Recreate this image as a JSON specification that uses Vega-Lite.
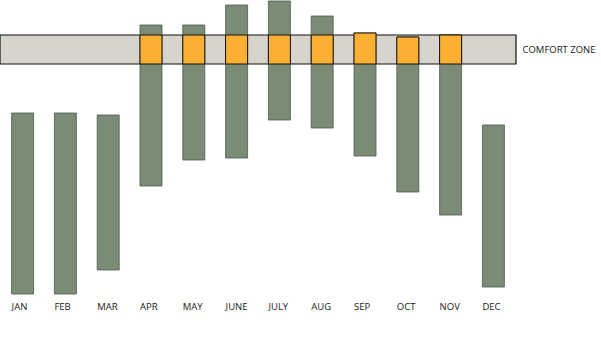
{
  "$schema": "https://vega.github.io/schema/vega-lite/v6.json",
  "width": 516,
  "height": 300,
  "autosize": {"type": "none"},
  "padding": {"left": 0, "top": 0, "right": 85, "bottom": 52},
  "background": "white",
  "config": {"view": {"stroke": null}, "axis": {"grid": false}},
  "encoding": {
    "y": {
      "field": "hi", "type": "quantitative",
      "scale": {"domain": [0, 300], "nice": false, "zero": false},
      "axis": {
        "orient": "right", "values": [250.5], "labelExpr": "'COMFORT ZONE'",
        "ticks": false, "domain": false, "grid": false, "title": null,
        "labelPadding": 6, "labelFontSize": 9.5, "labelFont": "Open Sans",
        "labelColor": "#1a1a1a", "labelAlign": "left", "labelBaseline": "middle"
      }
    },
    "y2": {"field": "lo"}
  },
  "layer": [
    {
      "data": {"values": [{"lo": 236, "hi": 265}]},
      "mark": {"type": "rect", "fill": "#d6d4cc", "stroke": "#111111", "strokeWidth": 1.2}
    },
    {
      "data": {"values": [
        {"month": "JAN", "lo": 6, "hi": 187},
        {"month": "FEB", "lo": 6, "hi": 187},
        {"month": "MAR", "lo": 30, "hi": 185},
        {"month": "APR", "lo": 114, "hi": 275},
        {"month": "MAY", "lo": 140, "hi": 275},
        {"month": "JUNE", "lo": 142, "hi": 295},
        {"month": "JULY", "lo": 180, "hi": 299},
        {"month": "AUG", "lo": 172, "hi": 284},
        {"month": "SEP", "lo": 144, "hi": 267},
        {"month": "OCT", "lo": 108, "hi": 263},
        {"month": "NOV", "lo": 85, "hi": 265},
        {"month": "DEC", "lo": 13, "hi": 175}
      ]},
      "mark": {"type": "bar", "fill": "#7a8b76", "stroke": "#4d5a4a", "strokeWidth": 0.8, "cornerRadius": 0},
      "encoding": {
        "x": {
          "field": "month", "type": "ordinal", "sort": null,
          "scale": {"paddingInner": 0.486, "paddingOuter": 0.271},
          "axis": {
            "orient": "bottom", "title": null, "domain": false, "ticks": false,
            "labelOffset": -11, "labelAlign": "left", "labelBaseline": "top",
            "labelPadding": 1, "labelAngle": 0, "labelFontSize": 9.5,
            "labelFont": "Open Sans", "labelColor": "#1a1a1a"
          }
        }
      }
    },
    {
      "data": {"values": [
        {"month": "APR", "lo": 236, "hi": 265},
        {"month": "MAY", "lo": 236, "hi": 265},
        {"month": "JUNE", "lo": 236, "hi": 265},
        {"month": "JULY", "lo": 236, "hi": 265},
        {"month": "AUG", "lo": 236, "hi": 265},
        {"month": "SEP", "lo": 236, "hi": 267},
        {"month": "OCT", "lo": 236, "hi": 263},
        {"month": "NOV", "lo": 236, "hi": 265}
      ]},
      "mark": {"type": "bar", "fill": "#fbb034", "stroke": "#111111", "strokeWidth": 1, "cornerRadius": 0},
      "encoding": {
        "x": {
          "field": "month", "type": "ordinal", "sort": null,
          "axis": {
            "orient": "bottom", "title": null, "domain": false, "ticks": false,
            "labelOffset": -11, "labelAlign": "left", "labelBaseline": "top",
            "labelPadding": 1, "labelAngle": 0, "labelFontSize": 9.5,
            "labelFont": "Open Sans", "labelColor": "#1a1a1a"
          }
        }
      }
    }
  ]
}
